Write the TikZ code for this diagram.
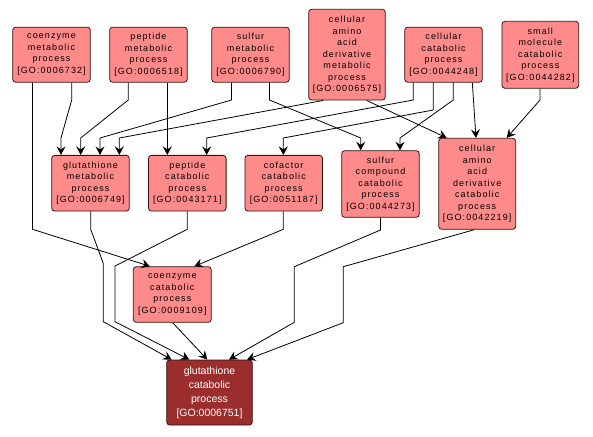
\documentclass[tikz,border=0pt]{standalone}
\usepackage{fontspec}
\usetikzlibrary{arrows.meta}
\newfontfamily\gofontfam{Liberation Sans}[LetterSpace=12]
\newfontfamily\gofinalfam{Liberation Sans}
\newcommand\gofont{\gofontfam\fontsize{9}{11.5}\selectfont}
\newcommand\gofinalfont{\gofinalfam\fontsize{10.5}{14}\selectfont}
\definecolor{pinkf}{RGB}{255,138,138}
\definecolor{darkf}{RGB}{155,45,45}
\definecolor{bord}{RGB}{50,20,20}
\tikzset{
  gobox/.style={draw=bord, fill=pinkf, rounded corners=3pt, line width=0.8pt,
    align=center, inner sep=0pt, minimum width=77.6pt, minimum height=55pt,
    font=\gofont, text=black},
  gofinal/.style={gobox, fill=darkf, text=white, font=\gofinalfont,
    minimum width=85.6pt, minimum height=65pt},
  edge/.style={draw=black, line width=0.8pt, line join=miter,
    -{Stealth[length=8.5pt,width=9pt,inset=3pt]}}
}
\begin{document}
\begin{tikzpicture}[x=1pt,y=-1pt]
\useasboundingbox (0,0) rectangle (593,436);
% top row
\node[gobox] (cm) at (51.5,54.7) {coenzyme\\metabolic\\process\\{[}GO:0006732{]}};
\node[gobox] (pm) at (148.5,54.7) {peptide\\metabolic\\process\\{[}GO:0006518{]}};
\node[gobox] (sm) at (250.5,54.7) {sulfur\\metabolic\\process\\{[}GO:0006790{]}};
\node[gobox, minimum width=76.6pt, minimum height=90.7pt] (aam) at (347,54.7) {cellular\\amino\\acid\\derivative\\metabolic\\process\\{[}GO:0006575{]}};
\node[gobox] (cc) at (443.5,54.7) {cellular\\catabolic\\process\\{[}GO:0044248{]}};
\node[gobox, minimum width=76.7pt, minimum height=67pt] (smc) at (540.3,54.8) {small\\molecule\\catabolic\\process\\{[}GO:0044282{]}};
% second row
\node[gobox, minimum height=55.7pt] (gm) at (90.5,183.2) {glutathione\\metabolic\\process\\{[}GO:0006749{]}};
\node[gobox, minimum height=55.7pt] (pc) at (187.3,183.2) {peptide\\catabolic\\process\\{[}GO:0043171{]}};
\node[gobox, minimum height=55.7pt] (cof) at (283.7,183.2) {cofactor\\catabolic\\process\\{[}GO:0051187{]}};
\node[gobox, minimum height=66.6pt] (scc) at (380.5,184) {sulfur\\compound\\catabolic\\process\\{[}GO:0044273{]}};
\node[gobox, minimum width=77pt, minimum height=91pt] (aac) at (477.2,183.8) {cellular\\amino\\acid\\derivative\\catabolic\\process\\{[}GO:0042219{]}};
% third row
\node[gobox, minimum width=78pt, minimum height=55.6pt] (cec) at (172.3,294.5) {coenzyme\\catabolic\\process\\{[}GO:0009109{]}};
% bottom
\node[gofinal] (gc) at (209.5,392.5) {glutathione\\catabolic\\process\\{[}GO:0006751{]}};
% edges
\draw[edge] (cm.south -| 71.7,0) -- (71.7,100) -- (61,138) -- (gm.north -| 61,0);
\draw[edge] (cm.south -| 32.5,0) -- (32.5,229.3) -- (cec.north -| 150,0);
\draw[edge] (pm.south -| 128.3,0) -- (128.3,100) -- (80.7,138) -- (gm.north -| 80.7,0);
\draw[edge] (pm.south -| 167.3,0) -- (pc.north -| 167.3,0);
\draw[edge] (sm.south -| 231.5,0) -- (231.5,100) -- (100,138) -- (gm.north -| 100,0);
\draw[edge] (sm.south -| 269.5,0) -- (269.5,100) -- (360.7,138) -- (scc.north -| 360.7,0);
\draw[edge] (aam.south -| 323.3,0) -- (119.3,138) -- (gm.north -| 119.3,0);
\draw[edge] (aam.south -| 366.7,0) -- (aac.north -| 446.7,0);
\draw[edge] (cc.south -| 413.3,0) -- (413.3,100) -- (206.7,138) -- (pc.north -| 206.7,0);
\draw[edge] (cc.south -| 433.3,0) -- (433.3,110) -- (283.3,138) -- (cof.north -| 283.3,0);
\draw[edge] (cc.south -| 453.3,0) -- (453.3,100) -- (400,138) -- (scc.north -| 400,0);
\draw[edge] (cc.south -| 472.3,0) -- (aac.north -| 476,0);
\draw[edge] (smc.south -| 540,0) -- (540,100) -- (aac.north -| 506.7,0);
\draw[edge] (gm.south -| 90.7,0) -- (90.7,229.3) -- (103.3,263.5) -- (103.3,321.7) -- (gc.north -| 171.7,0);
\draw[edge] (pc.south -| 187.3,0) -- (187.3,229.3) -- (115,266) -- (115,321.7) -- (gc.north -| 189.3,0);
\draw[edge] (cec.south -| 172.7,0) -- (gc.north -| 207.3,0);
\draw[edge] (scc.south -| 380.5,0) -- (380.5,230) -- (294.3,266.7) -- (294.3,322.3) -- (gc.north -| 229,0);
\draw[edge] (aac.south -| 474.3,0) -- (343.3,266.7) -- (343.3,322.7) -- (gc.north -| 247,0);
\draw[edge] (cof.south -| 283.3,0) -- (283.3,229.3) -- (cec.north -| 194.3,0);
\end{tikzpicture}
\end{document}
